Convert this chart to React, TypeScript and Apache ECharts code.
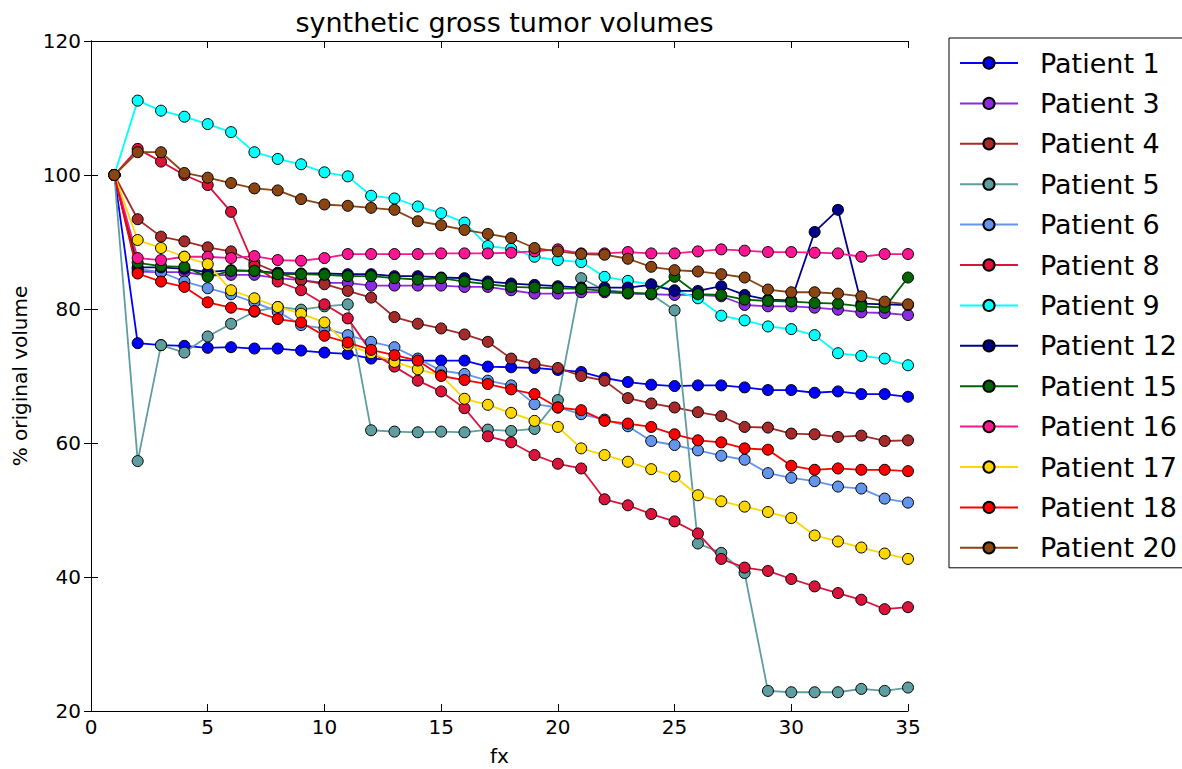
import React, { useEffect, useRef } from "react";
import * as echarts from "echarts";

const fx = [1, 2, 3, 4, 5, 6, 7, 8, 9, 10, 11, 12, 13, 14, 15, 16, 17, 18, 19, 20, 21, 22, 23, 24, 25, 26, 27, 28, 29, 30, 31, 32, 33, 34, 35];

const patient1 = [100, 74.9, 74.6, 74.5, 74.2, 74.3, 74.1, 74.1, 73.8, 73.5, 73.3, 72.6, 72.4, 72.3, 72.3, 72.3, 71.4, 71.3, 71.2, 70.9, 70.6, 69.7, 69.1, 68.7, 68.5, 68.6, 68.6, 68.3, 67.9, 67.9, 67.5, 67.7, 67.3, 67.3, 66.9];
const patient3 = [100, 85.6, 85.5, 85.5, 85.0, 85.1, 85.1, 84.6, 84.3, 83.9, 83.9, 83.5, 83.5, 83.5, 83.5, 83.3, 83.3, 82.8, 82.3, 82.3, 82.5, 82.5, 82.3, 82.2, 82.1, 82.1, 81.9, 80.6, 80.4, 80.4, 80.2, 79.9, 79.5, 79.4, 79.1];
const patient4 = [100, 93.4, 90.8, 90.1, 89.2, 88.6, 86.9, 85.4, 84.3, 83.7, 82.7, 81.7, 78.8, 77.8, 77.1, 76.2, 75.1, 72.6, 71.8, 71.2, 70.0, 69.3, 66.7, 65.9, 65.3, 64.6, 64.0, 62.4, 62.3, 61.4, 61.3, 60.9, 61.1, 60.3, 60.4];
const patient5 = [100, 57.3, 74.6, 73.5, 75.9, 77.8, 79.6, 80.3, 79.9, 80.4, 80.7, 61.9, 61.7, 61.6, 61.7, 61.6, 62.0, 61.8, 62.1, 66.4, 84.6, 82.8, 82.5, 82.2, 79.8, 45.0, 43.6, 40.6, 23.0, 22.8, 22.8, 22.8, 23.3, 23.0, 23.5];
const patient6 = [100, 86.0, 85.5, 84.1, 83.1, 82.2, 81.0, 79.6, 77.6, 77.1, 76.1, 75.1, 74.3, 72.6, 70.8, 70.3, 69.3, 68.6, 65.8, 65.3, 64.3, 63.5, 62.5, 60.3, 59.7, 58.9, 58.1, 57.5, 55.5, 54.8, 54.3, 53.5, 53.2, 51.7, 51.1];
const patient8 = [100, 103.9, 102.0, 100.0, 98.5, 94.5, 86.4, 84.1, 82.8, 80.7, 78.6, 73.6, 71.4, 69.3, 67.7, 65.2, 61.0, 60.1, 58.2, 56.9, 56.2, 51.6, 50.7, 49.4, 48.3, 46.5, 42.7, 41.4, 40.9, 39.7, 38.6, 37.6, 36.6, 35.2, 35.5];
const patient9 = [100, 111.1, 109.6, 108.7, 107.6, 106.4, 103.4, 102.4, 101.6, 100.4, 99.8, 96.9, 96.5, 95.3, 94.3, 92.9, 89.4, 89.0, 87.8, 87.3, 87.0, 84.8, 84.2, 83.7, 82.8, 81.6, 79.0, 78.3, 77.4, 77.0, 76.1, 73.4, 73.0, 72.6, 71.6];
const patient12 = [100, 86.2, 86.2, 86.0, 85.5, 85.8, 85.7, 85.4, 85.3, 85.3, 85.2, 85.2, 84.9, 84.9, 84.7, 84.6, 84.1, 83.8, 83.6, 83.4, 83.2, 83.2, 83.2, 83.6, 82.7, 82.7, 83.4, 82.1, 81.4, 81.3, 91.5, 94.8, 80.8, 80.7, 80.6];
const patient15 = [100, 86.9, 86.4, 86.3, 84.8, 85.7, 85.7, 85.2, 85.2, 85.1, 84.9, 84.9, 84.6, 84.4, 84.6, 84.1, 83.7, 83.3, 83.2, 83.1, 83.0, 82.7, 82.4, 82.3, 84.8, 82.2, 82.1, 81.4, 81.2, 81.1, 80.9, 80.8, 80.4, 80.2, 84.7];
const patient16 = [100, 87.6, 87.3, 87.8, 87.8, 87.6, 87.9, 87.3, 87.2, 87.6, 88.2, 88.2, 88.2, 88.2, 88.3, 88.3, 88.3, 88.4, 88.6, 88.9, 88.3, 88.3, 88.5, 88.3, 88.3, 88.6, 88.9, 88.7, 88.5, 88.5, 88.4, 88.3, 87.8, 88.2, 88.2];
const patient17 = [100, 90.3, 89.1, 87.8, 86.7, 82.8, 81.6, 80.3, 79.3, 78.0, 74.6, 73.4, 72.1, 71.0, 70.1, 66.6, 65.7, 64.5, 63.3, 62.4, 59.2, 58.2, 57.2, 56.1, 55.0, 52.2, 51.3, 50.5, 49.7, 48.8, 46.2, 45.3, 44.4, 43.5, 42.7];
const patient18 = [100, 85.3, 84.1, 83.3, 81.0, 80.2, 79.7, 78.5, 78.0, 76.0, 75.0, 73.9, 73.1, 72.3, 70.0, 69.4, 68.8, 68.0, 67.3, 65.3, 64.9, 63.3, 62.9, 62.4, 61.3, 60.4, 60.1, 59.2, 59.0, 56.6, 56.0, 56.2, 56.0, 56.0, 55.8];
const patient20 = [100, 103.4, 103.4, 100.3, 99.6, 98.8, 98.0, 97.7, 96.4, 95.6, 95.4, 95.1, 94.8, 93.1, 92.5, 91.8, 91.2, 90.6, 89.1, 88.6, 88.2, 88.1, 87.5, 86.3, 85.8, 85.6, 85.2, 84.7, 82.9, 82.5, 82.5, 82.3, 81.9, 81.1, 80.7];

const seriesNames = ["Patient 1", "Patient 3", "Patient 4", "Patient 5", "Patient 6", "Patient 8", "Patient 9", "Patient 12", "Patient 15", "Patient 16", "Patient 17", "Patient 18", "Patient 20"];
const seriesValues = [patient1, patient3, patient4, patient5, patient6, patient8, patient9, patient12, patient15, patient16, patient17, patient18, patient20];
const seriesColors = ["#0000FF", "#8A2BE2", "#A52A2A", "#5F9EA0", "#6495ED", "#DC143C", "#00FFFF", "#00008B", "#006400", "#FF1493", "#FFD700", "#FF0000", "#8B4513"];

const xTicks = { min: 0, max: 35, interval: 5 };
const yTicks = { min: 20, max: 120, interval: 20 };

const FONT = "DejaVu Sans";

export default function App() {
  const ref = useRef<HTMLDivElement>(null);
  useEffect(() => {
    if (!ref.current) return;
    const chart = echarts.init(ref.current, null, { renderer: "svg" });
    const axisCommon = {
      type: "value" as const,
      splitLine: { show: false },
      axisLine: { show: true, lineStyle: { color: "#000", width: 1 } },
      axisTick: { show: true, inside: true, length: 7, lineStyle: { color: "#000", width: 1 } },
    };
    chart.setOption({
      animation: false,
      backgroundColor: "#fff",
      title: {
        text: "synthetic gross tumor volumes",
        left: 499.5,
        top: 4,
        textAlign: "center",
        textStyle: { fontFamily: FONT, fontSize: 27, fontWeight: "normal", color: "#000" },
      },
      grid: { left: 91, top: 41, width: 817, height: 670, containLabel: false, outerBoundsMode: "none" },
      xAxis: [
        {
          ...axisCommon,
          ...xTicks,
          position: "bottom",
          name: "fx",
          nameLocation: "middle",
          nameGap: 35,
          nameTextStyle: { fontFamily: FONT, fontSize: 20, color: "#000" },
          axisLabel: { fontFamily: FONT, fontSize: 20, color: "#000", margin: 6 },
        },
        {
          ...axisCommon,
          ...xTicks,
          position: "top",
          axisLabel: { show: false },
        },
      ],
      yAxis: [
        {
          ...axisCommon,
          ...yTicks,
          position: "left",
          name: "% original volume",
          nameLocation: "middle",
          nameGap: 61,
          nameTextStyle: { fontFamily: FONT, fontSize: 20, color: "#000" },
          axisLabel: { fontFamily: FONT, fontSize: 20, color: "#000", margin: 10 },
        },
        {
          ...axisCommon,
          ...yTicks,
          position: "right",
          axisLabel: { show: false },
        },
      ],
      legend: {
        orient: "vertical",
        left: 949,
        top: 38,
        padding: [10, 40, 5, 10],
        itemWidth: 58,
        itemHeight: 14,
        itemGap: 10.4,
        borderColor: "#000",
        borderWidth: 1,
        borderRadius: 0,
        backgroundColor: "#fff",
        textStyle: { fontFamily: FONT, fontSize: 27, color: "#000", lineHeight: 30, padding: [0, 0, 0, 17] },
        data: seriesNames,
      },
      series: seriesNames.map((name, i) => ({
        name,
        type: "line",
        xAxisIndex: 0,
        yAxisIndex: 0,
        data: fx.map((x, j) => [x, seriesValues[i][j]]),
        symbol: "circle",
        symbolSize: 11,
        color: seriesColors[i],
        lineStyle: { color: seriesColors[i], width: 1.8 },
        itemStyle: { color: seriesColors[i], borderColor: "#000", borderWidth: 1 },
      })),
    });
    return () => chart.dispose();
  }, []);
  return (
    <div
      ref={ref}
      style={{ position: "fixed", left: 0, top: 0, width: 1182, height: 769 }}
    />
  );
}
